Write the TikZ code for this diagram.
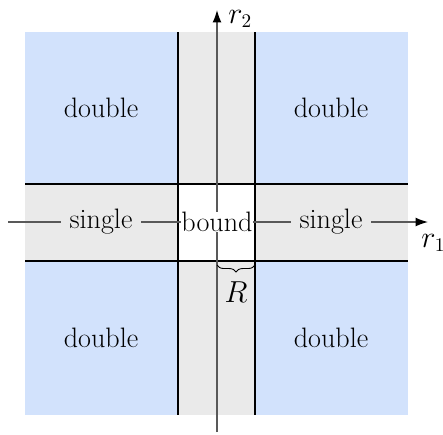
\documentclass[tikz,border=0pt]{standalone}
\usetikzlibrary{arrows.meta,decorations.pathreplacing}
\definecolor{regblue}{RGB}{210,226,252}
\definecolor{reggray}{RGB}{234,234,234}
\begin{document}
\begin{tikzpicture}[x=0.02cm, y=-0.02cm,
    lbl/.style={font=\fontsize{16}{19}\selectfont, inner sep=1pt},
    border/.style={line width=1.3pt},
    axis/.style={-{Latex[length=7pt,width=5pt,color=black]}, line width=0.7pt, black!65}
]
\useasboundingbox (0,0) rectangle (443,434);
% regions
\fill[regblue] (25,32) rectangle (408,415);
\fill[reggray] (178,32) rectangle (255,415);
\fill[reggray] (25,184) rectangle (408,261);
\fill[white] (178,184) rectangle (255,261);

% borders
\draw[border] (178,32) -- (178,415);
\draw[border] (255,32) -- (255,415);
\draw[border] (25,184) -- (408,184);
\draw[border] (25,261) -- (408,261);

% axes
\coordinate (xstart) at (8,222);
\coordinate (xend)   at (428,222);
\coordinate (ystart) at (217,432);
\coordinate (yend)   at (217,10);
\draw[axis] (xstart) -- (xend);
\draw[axis] (ystart) -- (yend);
\node[lbl, anchor=base west, inner sep=0pt] (r1) at (421,247) {$r_1$};
\node[lbl, anchor=base west, inner sep=0pt] (r2) at (228,23) {$r_2$};

% labels
\node[lbl] (dbl1)  at (101,108) {double};
\node[lbl] (dbl2)  at (331,108) {double};
\node[lbl] (dbl3)  at (101,338) {double};
\node[lbl] (dbl4)  at (331,338) {double};
\node[lbl, fill=reggray, inner xsep=5pt] (sgl1) at (101,222) {single};
\node[lbl, fill=reggray, inner xsep=5pt] (sgl2) at (331,222) {single};
\node[lbl, fill=white, inner sep=0pt] (bnd) at (217,222) {bound};

% radius
\coordinate (ra) at (217,265);
\coordinate (rb) at (255,265);
\draw[decorate, decoration={brace, mirror, amplitude=4pt}, line width=0.5pt] (ra) -- (rb);
\node[lbl] (rad) at (236,292) {$R$};
\end{tikzpicture}
\end{document}
